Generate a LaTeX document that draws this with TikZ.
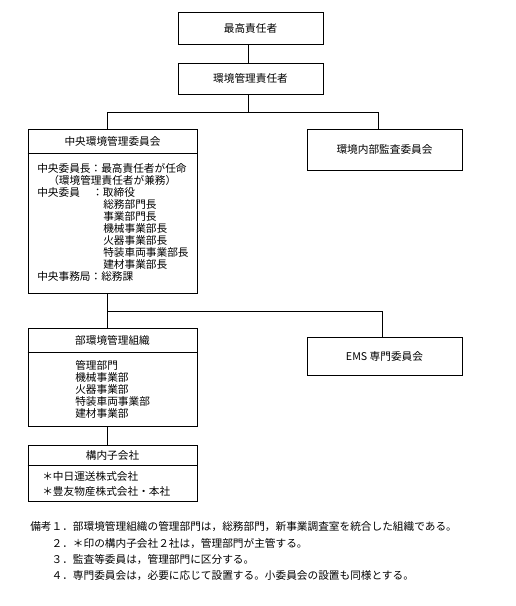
\documentclass[tikz,border=0pt]{standalone}
\usepackage{fontspec}
\newfontfamily\jp{Noto Sans CJK JP}
\begin{document}
\begin{tikzpicture}[x=0.75pt,y=-0.75pt,
  every node/.style={font=\jp\fontsize{8}{9.6}\selectfont, inner sep=0pt},
  box/.style={draw, line width=0.6pt},
  wide/.style={minimum width=126.75pt},
  side/.style={minimum width=116.25pt},
  top/.style={minimum width=108.75pt},
  txt/.style={anchor=west},
  conn/.style={line width=0.6pt}]
\useasboundingbox (0,0) rectangle (516,606);
% top boxes
\node[box, top, minimum height=24pt] (b1) at (250.5,28) {最高責任者};
\node[box, top, minimum height=23.25pt] (b2) at (250.5,78.5) {環境管理責任者};
% central committee
\node[box, wide, minimum height=123pt] (b3) at (112.5,211) {};
\node (b3h) at (112.5,141) {中央環境管理委員会};
\draw[conn] (b3.west |- 0,153) -- (b3.east |- 0,153);
\node[txt] (c1) at (37,168) {中央委員長：最高責任者が任命};
\node[txt] (c2) at (48,180) {（環境管理責任者が兼務）};
\node[txt] (c3a) at (37,192) {中央委員};
\node[txt] (c3b) at (92,192) {：取締役};
\node[txt] (c4) at (103,204) {総務部門長};
\node[txt] (c5) at (103,216) {事業部門長};
\node[txt] (c6) at (103,228) {機械事業部長};
\node[txt] (c7) at (103,240) {火器事業部長};
\node[txt] (c8) at (103,252) {特装車両事業部長};
\node[txt] (c9) at (103,264) {建材事業部長};
\node[txt] (c10) at (37,276) {中央事務局：総務課};
% audit committee
\node[box, side, minimum height=30.75pt] (aud) at (384.5,149.5) {環境内部監査委員会};
% department org
\node[box, wide, minimum height=73.5pt] (b4) at (112.5,377) {};
\node (b4h) at (112.5,340) {部環境管理組織};
\draw[conn] (b4.west |- 0,352) -- (b4.east |- 0,352);
\node[txt] (d1) at (75,365) {管理部門};
\node[txt] (d2) at (75,377) {機械事業部};
\node[txt] (d3) at (75,389) {火器事業部};
\node[txt] (d4) at (75,401) {特装車両事業部};
\node[txt] (d5) at (75,413) {建材事業部};
% subsidiaries
\node[box, wide, minimum height=42pt] (b5) at (112.5,473) {};
\node (b5h) at (112.5,455) {構内子会社};
\draw[conn] (b5.west |- 0,465) -- (b5.east |- 0,465);
\node[txt] (s1) at (42,476) {＊中日運送株式会社};
\node[txt] (s2) at (42,491) {＊豊友物産株式会社・本社};
% EMS
\node[box, side, minimum height=28.5pt] (ems) at (384.5,356) {EMS 専門委員会};
% connectors
\coordinate (h1L) at (107,112);
\coordinate (h1R) at (378,112);
\coordinate (h1M) at (248,112);
\coordinate (h2L) at (107,311);
\coordinate (h2R) at (382,311);
\draw[conn] (b1.south -| h1M) -- (b2.north -| h1M);
\draw[conn] (b2.south -| h1M) -- (h1M);
\draw[conn] (h1L |- b3.north) -- (h1L) -- (h1R) -- (h1R |- aud.north);
\draw[conn] (h2L |- b3.south) -- (h2L |- b4.north);
\draw[conn] (h2L) -- (h2R) -- (h2R |- ems.north);
\draw[conn] (h2L |- b4.south) -- (h2L |- b5.north);
% notes
\node[txt] (n1) at (30,527) {備考１．部環境管理組織の管理部門は，総務部門，新事業調査室を統合した組織である。};
\node[txt] (n2) at (30,544) {　　２．＊印の構内子会社２社は，管理部門が主管する。};
\node[txt] (n3) at (30,560) {　　３．監査等委員は，管理部門に区分する。};
\node[txt] (n4) at (30,576) {　　４．専門委員会は，必要に応じて設置する。小委員会の設置も同様とする。};
\end{tikzpicture}
\end{document}
